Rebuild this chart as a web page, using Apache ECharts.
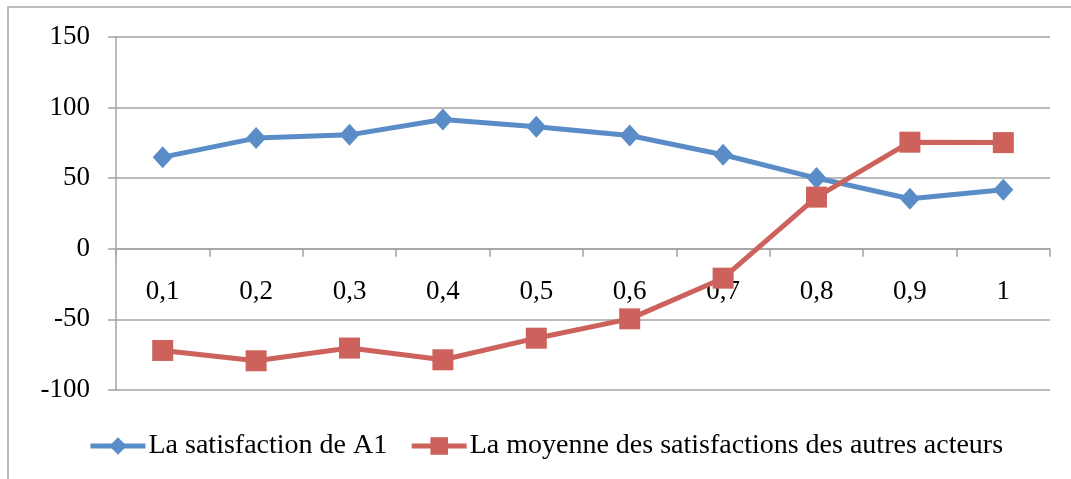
<!DOCTYPE html>
<html>
<head>
<meta charset="utf-8">
<script src="https://cdn.jsdelivr.net/npm/echarts@6/dist/echarts.min.js"></script>
<style>
  html, body { margin: 0; padding: 0; background: #fff; }
  #chart { width: 1071px; height: 479px; }
</style>
</head>
<body>
<div id="chart"></div>
<script>
// Categories (threshold values) and the two satisfaction series
const categories = ['0,1', '0,2', '0,3', '0,4', '0,5', '0,6', '0,7', '0,8', '0,9', '1'];
const satisfactionA1 = [64.9, 78.4, 80.7, 91.6, 86.4, 80.2, 66.6, 50.1, 35.4, 41.8];
const moyenneAutres = [-72.0, -79.3, -70.3, -78.6, -63.3, -49.6, -20.8, 36.6, 75.5, 75.2];
const seriesNames = ['La satisfaction de A1', 'La moyenne des satisfactions des autres acteurs'];

const FONT = '"Liberation Serif", "DejaVu Serif", serif';
const GRID_GREY = '#a3a3a3';
const BLUE = '#5a8dc8';
const RED = '#cd615b';

const Y_MIN = -100, Y_MAX = 150;
const GRID_TOP = 37, GRID_BOTTOM = 89, CHART_H = 479;
// distance from the bottom of the plot to the zero line, so the category axis sits on y = 0
const plotH = CHART_H - GRID_TOP - GRID_BOTTOM;
const zeroOffset = -plotH * (0 - Y_MIN) / (Y_MAX - Y_MIN);

const chart = echarts.init(document.getElementById('chart'), null, { renderer: 'canvas' });

chart.setOption({
  backgroundColor: '#ffffff',
  animation: false,
  textStyle: { fontFamily: FONT, color: '#000' },
  graphic: [{
    type: 'rect',
    shape: { x: 8, y: 7, width: 1200, height: 600 },
    style: { fill: 'none', stroke: '#a8a8a8', lineWidth: 1.5 },
    silent: true
  }],
  grid: { left: 116, right: 21, top: GRID_TOP, bottom: GRID_BOTTOM, containLabel: false },
  legend: {
    left: 88,
    top: 432,
    padding: 0,
    itemWidth: 55,
    itemHeight: 22,
    itemGap: 22,
    lineStyle: { width: 5 },
    textStyle: { fontFamily: FONT, fontSize: 28, color: '#000', padding: [0, 0, 0, -2] },
    data: seriesNames
  },
  xAxis: {
    type: 'category',
    data: categories,
    boundaryGap: true,
    offset: zeroOffset,
    axisLine: { onZero: false, lineStyle: { color: GRID_GREY, width: 1.5 } },
    axisTick: { show: true, length: 8, alignWithLabel: false, lineStyle: { color: GRID_GREY, width: 1.5 } },
    axisLabel: { margin: 30, fontFamily: FONT, fontSize: 27, color: '#000' },
    splitLine: { show: false }
  },
  yAxis: {
    type: 'value',
    min: Y_MIN,
    max: Y_MAX,
    interval: 50,
    axisLine: { show: true, lineStyle: { color: GRID_GREY, width: 1.5 } },
    axisTick: { show: true, length: 8, lineStyle: { color: GRID_GREY, width: 1.5 } },
    axisLabel: { margin: 26, fontFamily: FONT, fontSize: 27, color: '#000' },
    splitLine: { show: true, lineStyle: { color: GRID_GREY, width: 1.5 } }
  },
  series: [
    {
      name: seriesNames[0],
      type: 'line',
      data: satisfactionA1,
      symbol: 'diamond',
      symbolSize: [20, 22],
      lineStyle: { color: BLUE, width: 5 },
      itemStyle: { color: BLUE },
      z: 3
    },
    {
      name: seriesNames[1],
      type: 'line',
      data: moyenneAutres,
      symbol: 'rect',
      symbolSize: 21,
      lineStyle: { color: RED, width: 5 },
      itemStyle: { color: RED },
      z: 4
    }
  ]
});
</script>
</body>
</html>
